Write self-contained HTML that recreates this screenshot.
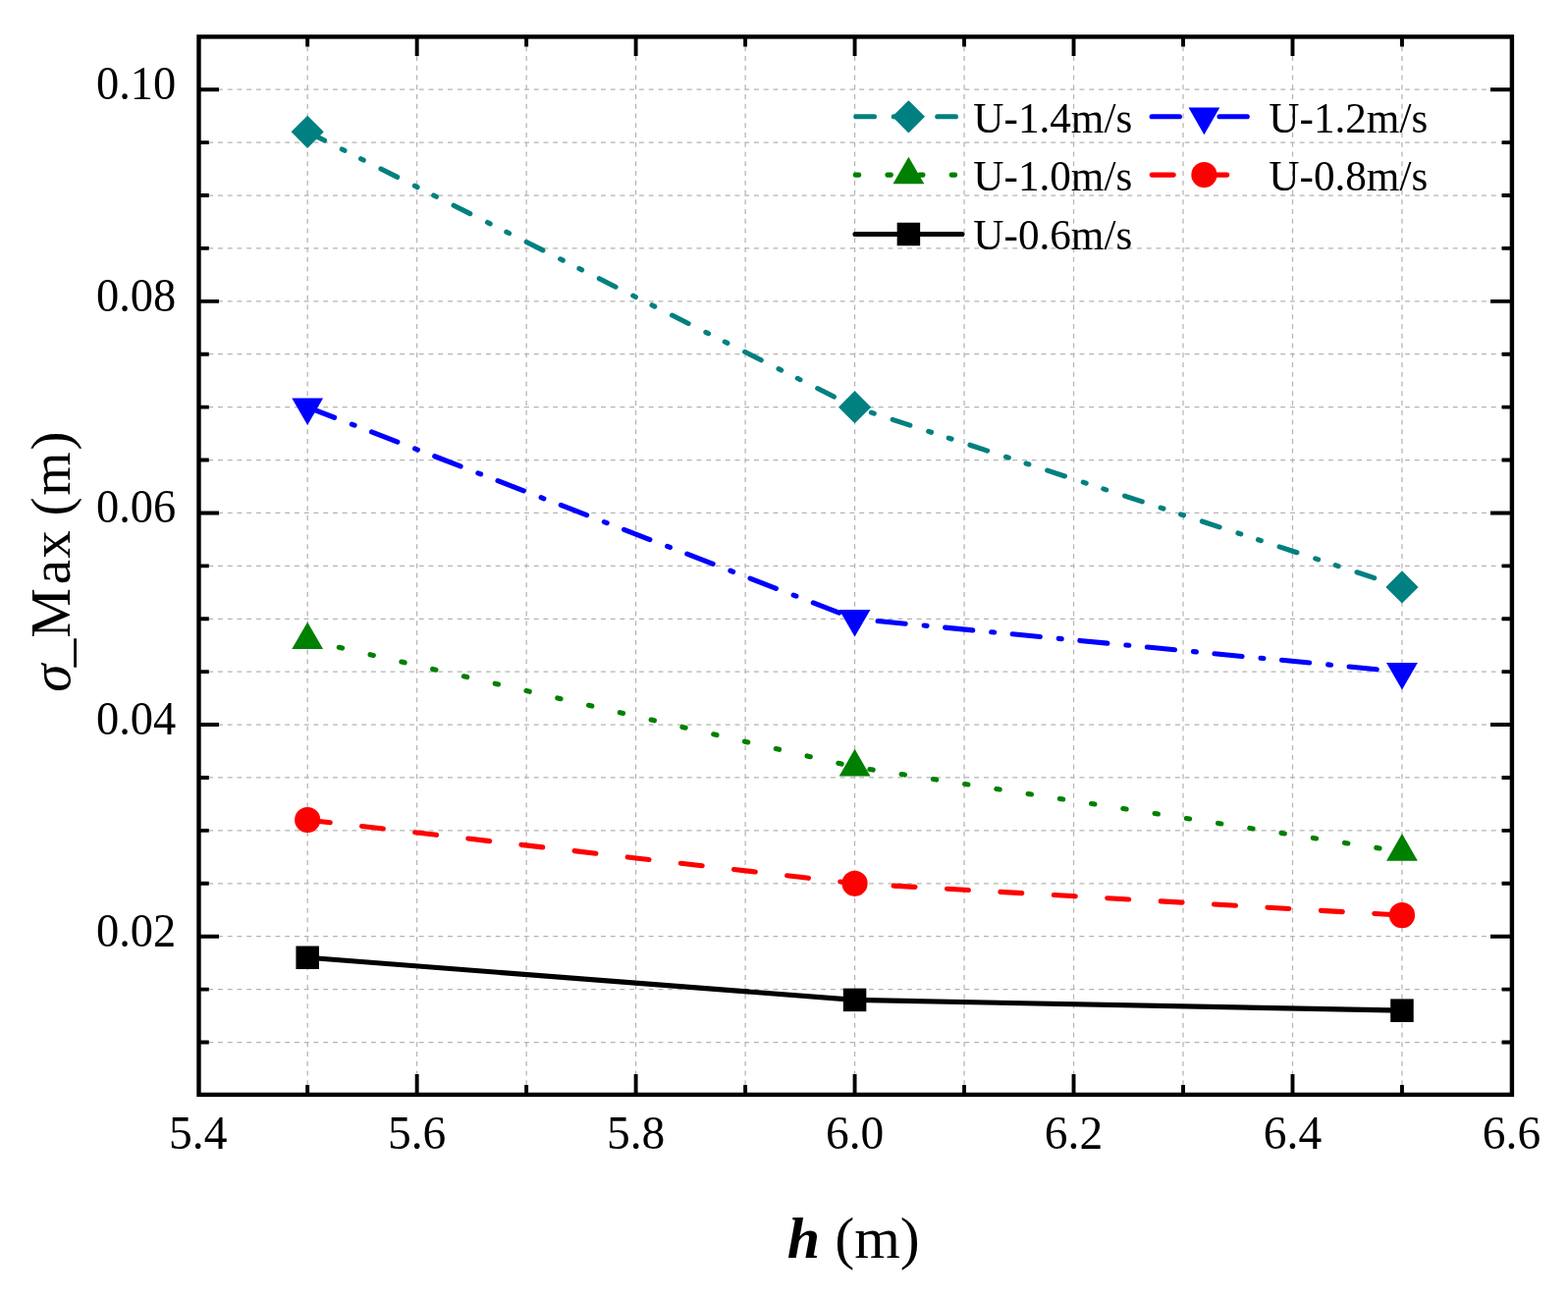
<!DOCTYPE html>
<html><head><meta charset="utf-8"><title>chart</title><style>html,body{margin:0;padding:0;background:#fff;}svg{display:block;}</style></head><body>
<svg width="1597" height="1324" viewBox="0 0 1597 1324">
<rect width="1597" height="1324" fill="#fff"/>
<path stroke="#b4b4b4" stroke-width="1.25" stroke-dasharray="4.9 4.85" fill="none" d="M202.5 1061.51H1539.9M202.5 1007.6H1539.9M202.5 953.7H1539.9M202.5 899.79H1539.9M202.5 845.89H1539.9M202.5 791.98H1539.9M202.5 738.07H1539.9M202.5 684.17H1539.9M202.5 630.26H1539.9M202.5 576.36H1539.9M202.5 522.45H1539.9M202.5 468.55H1539.9M202.5 414.64H1539.9M202.5 360.73H1539.9M202.5 306.83H1539.9M202.5 252.92H1539.9M202.5 199.02H1539.9M202.5 145.11H1539.9M202.5 91.21H1539.9M313.18 1114.9V37.45M424.66 1114.9V37.45M536.14 1114.9V37.45M647.62 1114.9V37.45M759.1 1114.9V37.45M870.57 1114.9V37.45M982.05 1114.9V37.45M1093.53 1114.9V37.45M1205.01 1114.9V37.45M1316.49 1114.9V37.45M1427.97 1114.9V37.45"/>
<polyline points="313.18,975.26 870.57,1018.38 1427.97,1029.17" fill="none" stroke="#000000" stroke-width="5.1" stroke-linecap="round" stroke-linejoin="round"/>
<polyline points="313.18,835.1 870.57,899.79 1427.97,932.13" fill="none" stroke="#ff0000" stroke-width="5.1" stroke-linecap="round" stroke-linejoin="round" stroke-dasharray="22 32.5" stroke-dashoffset="53.3"/>
<polyline points="313.18,651.83 870.57,781.2 1427.97,867.45" fill="none" stroke="#008000" stroke-width="5.1" stroke-linecap="round" stroke-linejoin="round" stroke-dasharray="3.4 29.23" stroke-dashoffset="32.33"/>
<polyline points="313.18,414.64 870.57,630.26 1427.97,684.17" fill="none" stroke="#0000ff" stroke-width="5.1" stroke-linecap="round" stroke-linejoin="round" stroke-dasharray="28.3 19.0 3 18.6" stroke-dashoffset="67.8"/>
<polyline points="313.18,134.33 870.57,414.64 1427.97,597.92" fill="none" stroke="#008080" stroke-width="5.1" stroke-linecap="round" stroke-linejoin="round" stroke-dasharray="18.7 19.82 3 18.6 3 19.84" stroke-dashoffset="82.18"/>
<rect x="301.43" y="963.51" width="23.5" height="23.5" fill="#000000"/>
<rect x="858.82" y="1006.63" width="23.5" height="23.5" fill="#000000"/>
<rect x="1416.22" y="1017.42" width="23.5" height="23.5" fill="#000000"/>
<circle cx="313.18" cy="835.1" r="13.1" fill="#ff0000"/>
<circle cx="870.57" cy="899.79" r="13.1" fill="#ff0000"/>
<circle cx="1427.97" cy="932.13" r="13.1" fill="#ff0000"/>
<path d="M313.18 633.47L329.08 661.01L297.28 661.01Z" fill="#008000"/>
<path d="M870.57 762.84L886.47 790.38L854.67 790.38Z" fill="#008000"/>
<path d="M1427.97 849.09L1443.87 876.63L1412.07 876.63Z" fill="#008000"/>
<path d="M313.18 433L329.08 405.46L297.28 405.46Z" fill="#0000ff"/>
<path d="M870.57 648.62L886.47 621.08L854.67 621.08Z" fill="#0000ff"/>
<path d="M1427.97 702.53L1443.87 674.99L1412.07 674.99Z" fill="#0000ff"/>
<path d="M313.18 117.73L329.78 134.33L313.18 150.93L296.58 134.33Z" fill="#008080"/>
<path d="M870.57 398.04L887.17 414.64L870.57 431.24L853.97 414.64Z" fill="#008080"/>
<path d="M1427.97 581.32L1444.57 597.92L1427.97 614.52L1411.37 597.92Z" fill="#008080"/>
<path d="M202.5 1061.51h10.3M1539.9 1061.51h-10.3M202.5 1007.6h10.3M1539.9 1007.6h-10.3M202.5 953.7h20.5M1539.9 953.7h-21.9M202.5 899.79h10.3M1539.9 899.79h-10.3M202.5 845.89h10.3M1539.9 845.89h-10.3M202.5 791.98h10.3M1539.9 791.98h-10.3M202.5 738.07h20.5M1539.9 738.07h-21.9M202.5 684.17h10.3M1539.9 684.17h-10.3M202.5 630.26h10.3M1539.9 630.26h-10.3M202.5 576.36h10.3M1539.9 576.36h-10.3M202.5 522.45h20.5M1539.9 522.45h-21.9M202.5 468.55h10.3M1539.9 468.55h-10.3M202.5 414.64h10.3M1539.9 414.64h-10.3M202.5 360.73h10.3M1539.9 360.73h-10.3M202.5 306.83h20.5M1539.9 306.83h-21.9M202.5 252.92h10.3M1539.9 252.92h-10.3M202.5 199.02h10.3M1539.9 199.02h-10.3M202.5 145.11h10.3M1539.9 145.11h-10.3M202.5 91.21h20.5M1539.9 91.21h-21.9M313.18 1114.9v-10M313.18 37.45v10M424.66 1114.9v-21M424.66 37.45v19.5M536.14 1114.9v-10M536.14 37.45v10M647.62 1114.9v-21M647.62 37.45v19.5M759.1 1114.9v-10M759.1 37.45v10M870.57 1114.9v-21M870.57 37.45v19.5M982.05 1114.9v-10M982.05 37.45v10M1093.53 1114.9v-21M1093.53 37.45v19.5M1205.01 1114.9v-10M1205.01 37.45v10M1316.49 1114.9v-21M1316.49 37.45v19.5M1427.97 1114.9v-10M1427.97 37.45v10" stroke="#000" stroke-width="3.9" fill="none"/>
<rect x="202.5" y="37.45" width="1337.4" height="1077.45" fill="none" stroke="#000" stroke-width="4.4" stroke-linejoin="miter"/>
<g font-family="Liberation Serif, serif" font-size="47.5" fill="#000"><text transform="translate(179.2 101.11) scale(0.978 1)" text-anchor="end">0.10</text><text transform="translate(179.2 316.73) scale(0.978 1)" text-anchor="end">0.08</text><text transform="translate(179.2 532.35) scale(0.978 1)" text-anchor="end">0.06</text><text transform="translate(179.2 747.97) scale(0.978 1)" text-anchor="end">0.04</text><text transform="translate(179.2 963.6) scale(0.978 1)" text-anchor="end">0.02</text><text x="201.7" y="1169.8" text-anchor="middle">5.4</text><text x="424.66" y="1169.8" text-anchor="middle">5.6</text><text x="647.62" y="1169.8" text-anchor="middle">5.8</text><text x="870.57" y="1169.8" text-anchor="middle">6.0</text><text x="1093.53" y="1169.8" text-anchor="middle">6.2</text><text x="1316.49" y="1169.8" text-anchor="middle">6.4</text><text x="1539.45" y="1169.8" text-anchor="middle">6.6</text></g>
<text x="869.3" y="1281.4" text-anchor="middle" font-family="Liberation Serif, serif" font-size="60" fill="#000"><tspan font-weight="bold" font-style="italic">h</tspan> (m)</text>
<text transform="translate(70.75 706.9) rotate(-90)" x="2.09 27.75 57.22 111.59 138.25 166.75 181.53 202.18 248.34" y="0" font-family="Liberation Serif, serif" font-size="57" fill="#000"><tspan font-style="italic">σ</tspan>_Max (m)</text>
<path d="M871 118.8h109" fill="none" stroke="#008080" stroke-width="5.1" stroke-linecap="round" stroke-dasharray="18.7 19.82 3 18.6 3 19.84" stroke-dashoffset="82.18"/>
<path d="M925.4 102.2L942 118.8L925.4 135.4L908.8 118.8Z" fill="#008080"/>
<text transform="translate(991.3 135.1) scale(0.982 1)" font-family="Liberation Serif, serif" font-size="44" fill="#000">U-1.4m/s</text>
<path d="M1172 118.8h109" fill="none" stroke="#0000ff" stroke-width="5.1" stroke-linecap="round" stroke-dasharray="28.3 19.0 3 18.6" stroke-dashoffset="67.8"/>
<path d="M1226.4 137.16L1242.3 109.62L1210.5 109.62Z" fill="#0000ff"/>
<text transform="translate(1292.3 135.1) scale(0.982 1)" font-family="Liberation Serif, serif" font-size="44" fill="#000">U-1.2m/s</text>
<path d="M871 178.1h109" fill="none" stroke="#008000" stroke-width="5.1" stroke-linecap="round" stroke-dasharray="3.4 29.23" stroke-dashoffset="32.33"/>
<path d="M925.4 159.74L941.3 187.28L909.5 187.28Z" fill="#008000"/>
<text transform="translate(991.3 193.7) scale(0.982 1)" font-family="Liberation Serif, serif" font-size="44" fill="#000">U-1.0m/s</text>
<path d="M1172 178.1h109" fill="none" stroke="#ff0000" stroke-width="5.1" stroke-linecap="round" stroke-dasharray="22 32.5" stroke-dashoffset="53.3"/>
<circle cx="1226.4" cy="178.1" r="13.1" fill="#ff0000"/>
<text transform="translate(1292.3 193.5) scale(0.982 1)" font-family="Liberation Serif, serif" font-size="44" fill="#000">U-0.8m/s</text>
<path d="M871 238.5h109" fill="none" stroke="#000000" stroke-width="5.1" stroke-linecap="round"/>
<rect x="913.65" y="226.75" width="23.5" height="23.5" fill="#000000"/>
<text transform="translate(991.3 253.8) scale(0.982 1)" font-family="Liberation Serif, serif" font-size="44" fill="#000">U-0.6m/s</text>
</svg>
</body></html>
